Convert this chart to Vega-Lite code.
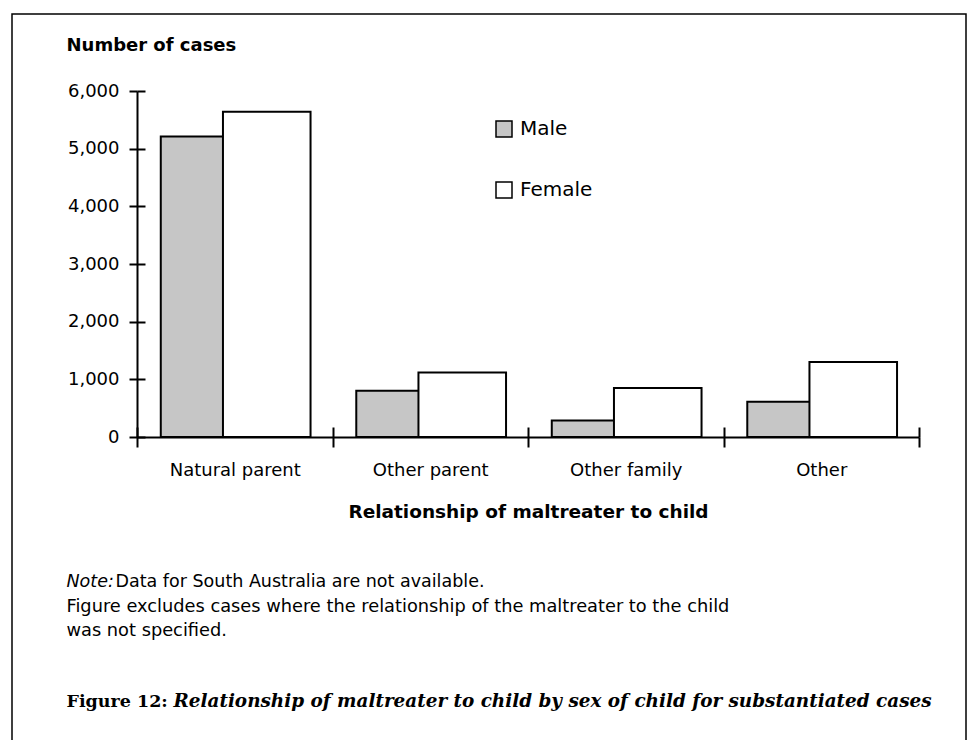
{
  "$schema": "https://vega.github.io/schema/vega-lite/v6.json",
  "autosize": "none",
  "padding": {"left": 12, "top": 14, "right": 2, "bottom": 0},
  "width": 954,
  "height": 730,
  "background": "#ffffff",
  "config": {
    "view": {"stroke": "#000000", "strokeWidth": 1.5},
    "font": "DejaVu Sans",
    "axis": {"titleLimit": 2000, "labelLimit": 400, "grid": false, "titleColor": "#000000", "labelColor": "#000000", "tickColor": "#000000", "domainColor": "#000000"}
  },
  "data": {
    "values": [
      {"relationship": "Natural parent", "sex": "Male", "cases": 5210},
      {"relationship": "Natural parent", "sex": "Female", "cases": 5640},
      {"relationship": "Other parent", "sex": "Male", "cases": 800},
      {"relationship": "Other parent", "sex": "Female", "cases": 1120},
      {"relationship": "Other family", "sex": "Male", "cases": 285},
      {"relationship": "Other family", "sex": "Female", "cases": 850},
      {"relationship": "Other", "sex": "Male", "cases": 610},
      {"relationship": "Other", "sex": "Female", "cases": 1300}
    ]
  },
  "resolve": {"axis": {"x": "independent", "y": "independent"}},
  "layer": [
    {
      "transform": [{"filter": "datum.sex === 'Male'"}],
      "mark": {"type": "bar", "stroke": "#000000", "strokeWidth": 2, "width": {"band": 0.322}, "xOffset": -42.5},
      "encoding": {
        "x": {
          "field": "relationship", "type": "nominal", "sort": null,
          "scale": {"type": "band", "domain": ["Natural parent", "Other parent", "Other family", "Other"], "range": [125, 907], "paddingInner": 0, "paddingOuter": 0},
          "axis": {
            "orient": "bottom", "offset": -307, "tickBand": "extent", "tickSize": 10, "tickWidth": 2, "domainWidth": 2,
            "labelFont": "DejaVu Sans", "labelFontSize": 18, "labelPadding": 14, "labelAngle": 0, "zindex": 2,
            "title": "Relationship of maltreater to child", "titleFont": "DejaVu Sans", "titleFontSize": 18.5, "titleFontWeight": "bold",
            "titleX": 516, "titleY": 80, "titleAlign": "center", "titleBaseline": "alphabetic", "titleAnchor": null
          }
        },
        "y": {
          "field": "cases", "type": "quantitative",
          "scale": {"domain": [0, 6000], "range": [423, 77], "nice": false, "zero": true},
          "axis": {
            "orient": "left", "offset": -125, "values": [0, 1000, 2000, 3000, 4000, 5000, 6000],
            "labelExpr": "format(datum.value, ',')",
            "tickSize": 8, "tickWidth": 2, "domainWidth": 2, "labelFont": "DejaVu Sans", "labelFontSize": 18, "labelPadding": 10, "zindex": 2,
            "title": "Number of cases", "titleFont": "DejaVu Sans", "titleFontSize": 18, "titleFontWeight": "bold", "titleAngle": 0,
            "titleX": -71, "titleY": 36, "titleAlign": "left", "titleBaseline": "alphabetic", "titleAnchor": null
          }
        },
        "color": {
          "field": "sex", "type": "nominal",
          "scale": {"domain": ["Male", "Female"], "range": ["#c6c6c6", "#ffffff"]},
          "legend": {
            "orient": "none", "legendX": 482, "legendY": 105, "title": null, "direction": "vertical",
            "symbolType": "square", "symbolSize": 256, "symbolStrokeColor": "#000000", "symbolStrokeWidth": 1.5,
            "labelFont": "DejaVu Sans", "labelFontSize": 20, "labelColor": "#000000", "labelOffset": 6, "rowPadding": 39, "padding": 0
          }
        }
      }
    },
    {
      "transform": [{"filter": "datum.sex === 'Female'"}],
      "mark": {"type": "bar", "stroke": "#000000", "strokeWidth": 2, "width": {"band": 0.448}, "xOffset": 32},
      "encoding": {
        "x": {
          "field": "relationship", "type": "nominal", "sort": null,
          "scale": {"type": "band", "domain": ["Natural parent", "Other parent", "Other family", "Other"], "range": [125, 907], "paddingInner": 0, "paddingOuter": 0},
          "axis": {
            "orient": "top", "offset": -423, "tickBand": "extent", "tickSize": 10, "tickWidth": 2, "domain": false, "labels": false, "zindex": 2,
            "title": "Note:", "titleFont": "DejaVu Sans", "titleFontSize": 17.5, "titleFontWeight": "normal", "titleFontStyle": "italic",
            "titleX": 54, "titleY": 149, "titleAlign": "left", "titleBaseline": "alphabetic", "titleAnchor": null
          }
        },
        "y": {
          "field": "cases", "type": "quantitative",
          "scale": {"domain": [0, 6000], "range": [423, 77], "nice": false, "zero": true},
          "axis": {
            "orient": "right", "offset": -829, "values": [0, 1000, 2000, 3000, 4000, 5000, 6000],
            "tickSize": 8, "tickWidth": 2, "domain": false, "labels": false, "zindex": 2,
            "title": "Data for South Australia are not available.", "titleFont": "DejaVu Sans", "titleFontSize": 17.5, "titleFontWeight": "normal", "titleAngle": 0,
            "titleX": -22, "titleY": 572, "titleAlign": "left", "titleBaseline": "alphabetic", "titleAnchor": null
          }
        },
        "color": {"field": "sex", "type": "nominal", "scale": {"domain": ["Male", "Female"], "range": ["#c6c6c6", "#ffffff"]}}
      }
    },
    {
      "mark": {"type": "bar", "opacity": 0},
      "encoding": {
        "x": {
          "field": "relationship", "type": "nominal", "sort": null,
          "scale": {"type": "band", "domain": ["Natural parent", "Other parent", "Other family", "Other"], "range": [125, 907], "paddingInner": 0, "paddingOuter": 0},
          "axis": {
            "orient": "bottom", "offset": 0, "ticks": false, "domain": false, "labels": false,
            "title": ["Figure excludes cases where the relationship of the maltreater to the child", "was not specified."],
            "titleFont": "DejaVu Sans", "titleFontSize": 17.8, "titleFontWeight": "normal", "titleLineHeight": 24,
            "titleX": 54, "titleY": -133, "titleAlign": "left", "titleBaseline": "alphabetic", "titleAnchor": null
          }
        },
        "y": {
          "field": "cases", "type": "quantitative",
          "scale": {"domain": [0, 6000], "range": [423, 77], "nice": false, "zero": true},
          "axis": {
            "orient": "left", "offset": 0, "ticks": false, "domain": false, "labels": false,
            "title": "Figure 12:", "titleFont": "DejaVu Serif", "titleFontSize": 17.5, "titleFontWeight": "bold", "titleAngle": 0,
            "titleX": 54, "titleY": 692, "titleAlign": "left", "titleBaseline": "alphabetic", "titleAnchor": null
          }
        }
      }
    },
    {
      "mark": {"type": "bar", "opacity": 0},
      "encoding": {
        "x": {
          "field": "relationship", "type": "nominal", "sort": null,
          "scale": {"type": "band", "domain": ["Natural parent", "Other parent", "Other family", "Other"], "range": [125, 907], "paddingInner": 0, "paddingOuter": 0},
          "axis": {
            "orient": "top", "offset": 0, "ticks": false, "domain": false, "labels": false,
            "title": "Relationship of maltreater to child by sex of child for substantiated cases",
            "titleFont": "DejaVu Serif", "titleFontSize": 18.4, "titleFontWeight": "bold", "titleFontStyle": "italic",
            "titleX": 161, "titleY": 692, "titleAlign": "left", "titleBaseline": "alphabetic", "titleAnchor": null
          }
        },
        "y": {
          "field": "cases", "type": "quantitative",
          "scale": {"domain": [0, 6000], "range": [423, 77], "nice": false, "zero": true},
          "axis": null
        }
      }
    }
  ]
}
